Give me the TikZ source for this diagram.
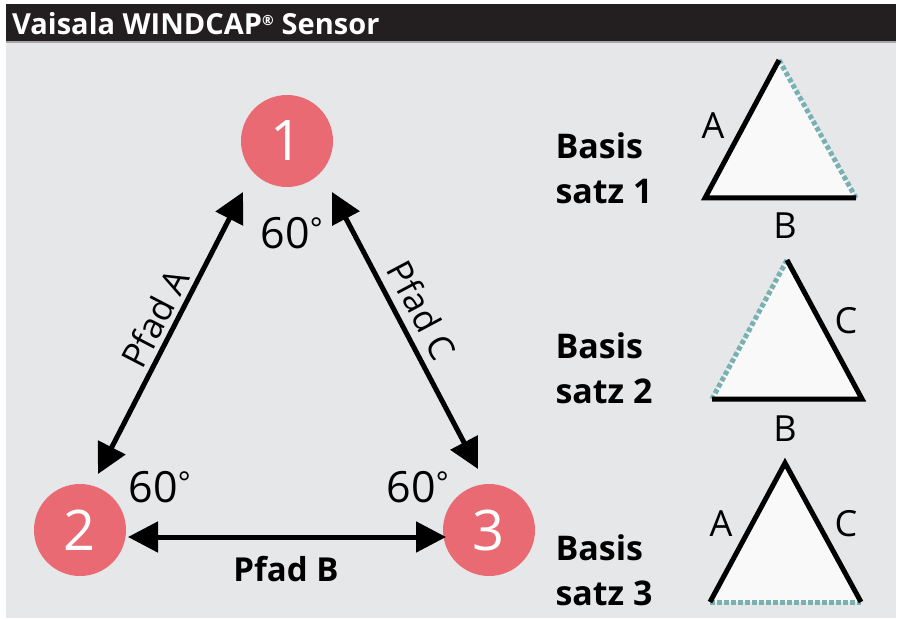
\documentclass[tikz,border=0pt]{standalone}
\usepackage{fontspec}
\setmainfont{Open Sans}
\usetikzlibrary{arrows.meta}
\definecolor{bg}{HTML}{E6E7E9}
\definecolor{bar}{HTML}{231F20}
\definecolor{dot}{HTML}{E96A72}
\definecolor{teal}{HTML}{79B1B3}
\definecolor{tri}{HTML}{F9F9FA}
\tikzset{
  circ/.style={circle,fill=dot,minimum size=92pt,inner sep=0pt,text=white,font=\fontsize{56}{56}\selectfont},
  dbl/.style={line width=5pt,{Triangle[length=30pt,width=30pt]}-{Triangle[length=30pt,width=30pt]}},
  ang/.style={font=\fontsize{43}{43}\selectfont},
  pfad/.style={font=\fontsize{33}{33}\selectfont\bfseries},
  pfadr/.style={font=\fontsize{35}{35}\selectfont},
  basis/.style={font=\fontsize{34}{45}\selectfont\bfseries,align=left,anchor=west},
  edge/.style={line width=5pt,line cap=butt,line join=miter},
  dotted edge/.style={line width=5pt,teal,dash pattern=on 4.5pt off 2.5pt},
  lbl/.style={font=\fontsize{36}{36}\selectfont}
}
\begin{document}
\begin{tikzpicture}[x=1pt,y=-1pt]
\useasboundingbox (0,0) rectangle (901,620);
\fill[white] (0,0) rectangle (901,620);
\fill[bg] (6,4) rectangle (896,618);
\fill[bar] (6,4) rectangle (896,41);
\fill[gray!70] (6,41) rectangle (896,43);
\node[anchor=base west,text=white,font=\fontsize{29}{29}\selectfont\bfseries,inner sep=0pt] (title) at (12,35) {Vaisala WINDCAP\textsuperscript{\fontsize{14}{14}\selectfont®} Sensor};

% circles
\node[circ] (c1) at (287,141) {1};
\node[circ] (c2) at (80,530) {2};
\node[circ] (c3) at (489,530) {3};

% arrow end points
\coordinate (a1) at (243,192);
\coordinate (a2) at (98,474);
\coordinate (k1) at (332,192);
\coordinate (k3) at (478,469);
\coordinate (b2) at (128,537);
\coordinate (b3) at (446,537);
\draw[dbl] (a2) -- (a1);
\draw[dbl] (k1) -- (k3);
\draw[dbl] (b2) -- (b3);

% labels
\node[pfadr,rotate=62.5] (pa) at (155,318) {Pfad A};
\node[pfadr,rotate=-62] (pc) at (422,310) {Pfad C};
\node[pfad] (pb) at (286,569) {Pfad B};
\node[ang] (g1) at (292,233) {60\textsuperscript{°}};
\node[ang] (g2) at (160,487) {60\textsuperscript{°}};
\node[ang] (g3) at (418,487) {60\textsuperscript{°}};

% Basis sets
\node[basis] (s1) at (552,168) {Basis\\satz 1};
\node[basis] (s2) at (552,368) {Basis\\satz 2};
\node[basis] (s3) at (552,570) {Basis\\satz 3};

% triangle 1
\coordinate (t1a) at (779,60);
\coordinate (t1l) at (705,198);
\coordinate (t1r) at (856,198);
\fill[tri] (t1a) -- (t1l) -- (t1r) -- cycle;
\draw[dotted edge] (t1a) -- (t1r);
\draw[edge] (t1a) -- (t1l) -- (t1r);
\node[lbl] (l1a) at (713,126) {A};
\node[lbl] (l1b) at (785,226) {B};

% triangle 2
\coordinate (t2a) at (787,260);
\coordinate (t2l) at (712,399);
\coordinate (t2r) at (862,399);
\fill[tri] (t2a) -- (t2l) -- (t2r) -- cycle;
\draw[dotted edge] (t2a) -- (t2l);
\draw[edge] (t2a) -- (t2r) -- (t2l);
\node[lbl] (l2c) at (846,321) {C};
\node[lbl] (l2b) at (785,429) {B};

% triangle 3
\coordinate (t3a) at (785,463);
\coordinate (t3l) at (710,602);
\coordinate (t3r) at (861,602);
\fill[tri] (t3a) -- (t3l) -- (t3r) -- cycle;
\draw[dotted edge] (t3l) -- (t3r);
\draw[edge] (t3l) -- (t3a) -- (t3r);
\node[lbl] (l3a) at (721,524) {A};
\node[lbl] (l3c) at (846,524) {C};
\end{tikzpicture}
\end{document}
